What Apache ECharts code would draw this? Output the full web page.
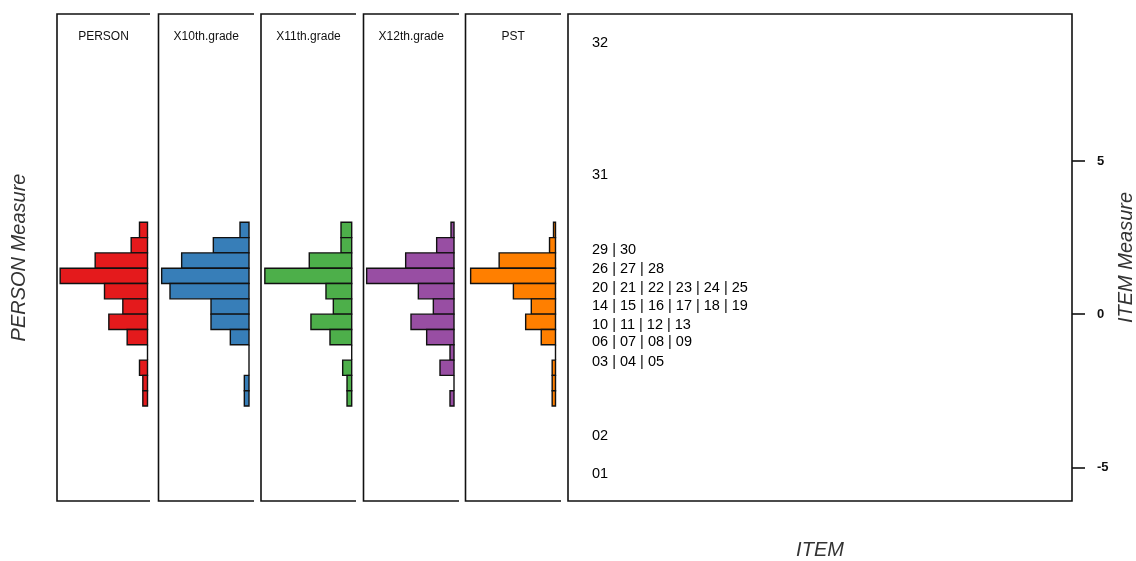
<!DOCTYPE html>
<html>
<head>
<meta charset="utf-8">
<title>Wright Map</title>
<script src="https://cdn.jsdelivr.net/npm/echarts@6/dist/echarts.min.js"></script>
<style>
  html, body { margin: 0; padding: 0; background: #fff; }
  #chart { width: 1136px; height: 561px; }
</style>
</head>
<body>
<div id="chart"></div>
<script>
// Person histograms: bins of 0.5 logits, listed top to bottom
const binHigh = [3.0, 2.5, 2.0, 1.5, 1.0, 0.5, 0.0, -0.5, -1.0, -1.5, -2.0, -2.5];
const binLow  = [2.5, 2.0, 1.5, 1.0, 0.5, 0.0, -0.5, -1.0, -1.5, -2.0, -2.5, -3.0];

// Relative bar lengths for each group
const panelNames = ['PERSON', 'X10th.grade', 'X11th.grade', 'X12th.grade', 'PST'];
const personFreq = [24, 49, 157, 262, 129, 74, 116, 61, 0, 24, 14, 14];
const grade10Freq = [27, 107, 202, 262, 237, 114, 114, 56, 0, 0, 14, 14];
const grade11Freq = [32, 32, 127, 260, 77, 55, 122, 65, 0, 27, 14, 14];
const grade12Freq = [9, 52, 145, 262, 107, 62, 129, 82, 12, 42, 0, 12];
const pstFreq = [6, 18, 170, 256, 127, 73, 90, 43, 0, 10, 10, 10];
const panelColors = ['#E41A1C', '#377EB8', '#4DAF4A', '#984EA3', '#FF7F00'];

// Item difficulties
const itemIds = ['01','02','03','04','05','06','07','08','09','10','11','12','13','14','15','16',
                 '17','18','19','20','21','22','23','24','25','26','27','28','29','30','31','32'];
const itemMeasures = [-5.21, -3.99, -1.56, -1.56, -1.56, -0.91, -0.91, -0.91, -0.91,
                      -0.37, -0.37, -0.37, -0.37, 0.26, 0.26, 0.26, 0.26, 0.26, 0.26,
                      0.87, 0.87, 0.87, 0.87, 0.87, 0.87, 1.47, 1.47, 1.47, 2.09, 2.09,
                      4.55, 8.85];
const measureTicks = [-5, 0, 5];

// Layout
const yMin = -6.1, yMax = 9.8;
const plotTop = 14, plotBottom = 501;
const freqMax = 271.5;
const panels = [
  { left: 57,    base: 147.5, right: 150 },
  { left: 158.5, base: 249,   right: 254 },
  { left: 261,   base: 351.7, right: 356 },
  { left: 363.5, base: 454,   right: 459 },
  { left: 465.5, base: 555.5, right: 561 }
];
const itemPanel = { left: 568, right: 1072 };
const freqs = [personFreq, grade10Freq, grade11Freq, grade12Freq, pstFreq];

// Group items that share a measure into one row label
const itemRows = [];
itemIds.forEach((id, i) => {
  const m = itemMeasures[i];
  const last = itemRows[itemRows.length - 1];
  if (last && last.value[1] === m) last.name += ' | ' + id;
  else itemRows.push({ name: id, value: [0, m] });
});

const chart = echarts.init(document.getElementById('chart'), null, { renderer: 'canvas' });

const grids = [], xAxes = [], yAxes = [], series = [], graphics = [];
const ink = '#111';
const lineStyle = { stroke: ink, lineWidth: 1.6 };

panels.forEach((p, k) => {
  grids.push({ left: p.left, width: p.base - p.left, top: plotTop, height: plotBottom - plotTop });
  xAxes.push({ gridIndex: k, type: 'value', inverse: true, min: 0, max: freqMax, show: false });
  yAxes.push({ gridIndex: k, type: 'value', min: yMin, max: yMax, show: false });
  const color = panelColors[k];
  series.push({
    type: 'custom',
    xAxisIndex: k,
    yAxisIndex: k,
    data: freqs[k].map((f, i) => [binLow[i], binHigh[i], f]),
    encode: { x: 2, y: [0, 1] },
    renderItem: function (params, api) {
      const top = api.coord([0, api.value(1)]);
      const bot = api.coord([api.value(2), api.value(0)]);
      return {
        type: 'rect',
        shape: { x: bot[0], y: top[1], width: top[0] - bot[0], height: bot[1] - top[1] },
        style: { fill: color, stroke: '#111', lineWidth: 1.4 }
      };
    },
    silent: true
  });
  // open-sided panel frame: left, top and bottom edges
  graphics.push({
    type: 'polyline',
    shape: { points: [[p.right, plotTop], [p.left, plotTop], [p.left, plotBottom], [p.right, plotBottom]] },
    style: Object.assign({ fill: null }, lineStyle),
    silent: true
  });
  graphics.push({
    type: 'text',
    x: (p.left + p.right) / 2,
    y: 37,
    style: {
      text: panelNames[k], fill: ink, font: '12px "Liberation Sans", Arial, sans-serif',
      align: 'center', verticalAlign: 'middle'
    },
    silent: true
  });
});

// Item panel
const ig = panels.length;
grids.push({
  left: itemPanel.left, width: itemPanel.right - itemPanel.left, top: plotTop, height: plotBottom - plotTop,
  show: true, borderColor: ink, borderWidth: 1.6, backgroundColor: 'transparent'
});
xAxes.push({ gridIndex: ig, type: 'value', min: 0, max: 1, show: false });
yAxes.push({
  gridIndex: ig, type: 'value', position: 'right', min: yMin, max: yMax,
  axisLine: { show: false, onZero: false },
  splitLine: { show: false },
  axisTick: { show: true, inside: false, length: 13, customValues: measureTicks,
              lineStyle: { color: ink, width: 1.6 } },
  axisLabel: { show: true, customValues: measureTicks, margin: 25, color: ink,
               fontWeight: 'bold', fontSize: 13, fontFamily: '"Liberation Sans", Arial, sans-serif' }
});
series.push({
  type: 'scatter',
  xAxisIndex: ig,
  yAxisIndex: ig,
  symbolSize: 0,
  itemStyle: { opacity: 1 },
  data: itemRows,
  label: {
    show: true, position: 'right', distance: 24, formatter: '{b}', opacity: 1,
    color: '#000', fontSize: 14.5, fontFamily: '"Liberation Sans", Arial, sans-serif'
  },
  silent: true
});

// Axis titles
const titleFont = 'italic 20px "Liberation Sans", Arial, sans-serif';
graphics.push({
  type: 'text', x: 19, y: (plotTop + plotBottom) / 2, rotation: Math.PI / 2,
  style: { text: 'PERSON Measure', fill: '#333', font: titleFont, align: 'center', verticalAlign: 'middle' },
  silent: true
});
graphics.push({
  type: 'text', x: 1126, y: (plotTop + plotBottom) / 2, rotation: Math.PI / 2,
  style: { text: 'ITEM Measure', fill: '#333', font: titleFont, align: 'center', verticalAlign: 'middle' },
  silent: true
});
graphics.push({
  type: 'text', x: (itemPanel.left + itemPanel.right) / 2, y: 550,
  style: { text: 'ITEM', fill: '#333', font: titleFont, align: 'center', verticalAlign: 'middle' },
  silent: true
});

chart.setOption({
  animation: false,
  backgroundColor: '#fff',
  grid: grids,
  xAxis: xAxes,
  yAxis: yAxes,
  series: series,
  graphic: graphics
});
</script>
</body>
</html>
